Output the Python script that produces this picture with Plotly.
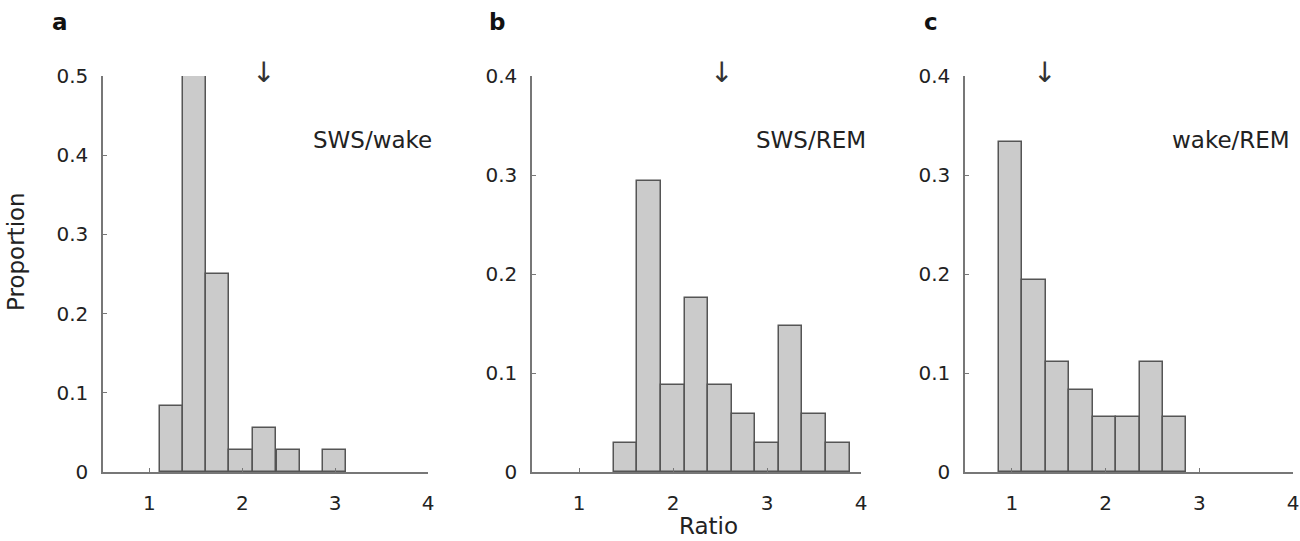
import plotly.graph_objects as go

# ---- data ----
panel_letters = ["a", "b", "c"]
panel_labels = ["SWS/wake", "SWS/REM", "wake/REM"]

centers_a = [1.235, 1.485, 1.735, 1.985, 2.24, 2.495, 2.745, 2.995]
props_a = [0.083, 0.5, 0.25, 0.028, 0.056, 0.028, 0.0, 0.028]
width_a = 0.251

centers_b = [1.495, 1.746, 1.997, 2.248, 2.499, 2.750, 3.001, 3.252, 3.503, 3.754]
props_b = [0.029, 0.294, 0.088, 0.176, 0.088, 0.059, 0.029, 0.147, 0.059, 0.029]
width_b = 0.251

centers_c = [0.986, 1.236, 1.486, 1.736, 1.987, 2.237, 2.487, 2.737]
props_c = [0.333, 0.194, 0.111, 0.083, 0.056, 0.056, 0.111, 0.056]
width_c = 0.25

arrow_x = [2.225, 2.518, 1.35]   # mean ratio markers
y_max = [0.5, 0.4, 0.4]
x_ticks = [1, 2, 3, 4]
x_range = [0.5, 4]

# ---- styling ----
W, H = 1300, 541
FONT = "DejaVu Sans"
AX = "#777777"
TXT = "#222222"
BAR_FILL = "#cbcbcb"
BAR_EDGE = "#555555"


def px(xp):
    return xp / W


def py(yp):
    return 1 - yp / H


x_domains_px = [(103, 428), (532, 861), (965, 1293)]
y_dom = [py(472), py(76)]

fig = go.Figure()
series = [(centers_a, props_a, width_a), (centers_b, props_b, width_b), (centers_c, props_c, width_c)]

for i, (cx, vals, bw) in enumerate(series):
    sfx = "" if i == 0 else str(i + 1)
    fig.add_trace(go.Bar(
        x=cx, y=vals, width=bw,
        marker=dict(color=BAR_FILL, line=dict(color=BAR_EDGE, width=1.5)),
        xaxis="x" + sfx, yaxis="y" + sfx, showlegend=False, hoverinfo="skip",
    ))
    d0, d1 = x_domains_px[i]
    common = dict(showline=True, linecolor=AX, linewidth=1.5, ticks="inside", ticklen=4,
                  tickcolor=AX, tickwidth=1.2, showgrid=False, zeroline=False,
                  automargin=False,
                  tickfont=dict(family=FONT, size=20, color=TXT))
    fig.layout["xaxis" + sfx] = dict(domain=[px(d0), px(d1)], range=x_range, tickvals=x_ticks,
                                     anchor="y" + sfx, ticklabelstandoff=12, **common)
    fig.layout["yaxis" + sfx] = dict(domain=y_dom, range=[0, y_max[i]], dtick=0.1, tick0=0,
                                     anchor="x" + sfx, ticklabelstandoff=9, **common)
    # arrow marker
    fig.add_annotation(x=arrow_x[i], xref="x" + sfx, y=py(72), yref="paper",
                       text="↓", showarrow=False, yanchor="middle", xanchor="center",
                       font=dict(family=FONT, size=28, color="#333333"))
    # panel label text
    lbl_center = [372, 811, 1231][i]
    fig.add_annotation(x=px(lbl_center), xref="paper", y=py(140), yref="paper",
                       text=panel_labels[i], showarrow=False, xanchor="center", yanchor="middle",
                       font=dict(family=FONT, size=23, color=TXT))
    # panel letter
    letter_x = [60, 497, 931][i]
    fig.add_annotation(x=px(letter_x), xref="paper", y=py(22), yref="paper",
                       text="<b>" + panel_letters[i] + "</b>", showarrow=False,
                       xanchor="center", yanchor="middle",
                       font=dict(family=FONT, size=23, color="#111111"))

fig.add_annotation(x=px(16), xref="paper", y=py(252), yref="paper", text="Proportion",
                   textangle=-90, showarrow=False, xanchor="center", yanchor="middle",
                   font=dict(family=FONT, size=23, color=TXT))
fig.add_annotation(x=px(708), xref="paper", y=py(526), yref="paper", text="Ratio",
                   showarrow=False, xanchor="center", yanchor="middle",
                   font=dict(family=FONT, size=23, color=TXT))

fig.update_layout(width=W, height=H, margin=dict(l=0, r=0, t=0, b=0),
                  paper_bgcolor="white", plot_bgcolor="white", bargap=0,
                  font=dict(family=FONT, color=TXT))

fig.write_html(
    "out.html",
    config={"displayModeBar": False},
    post_script="document.body.style.margin='0';document.body.style.overflow='hidden';",
)
